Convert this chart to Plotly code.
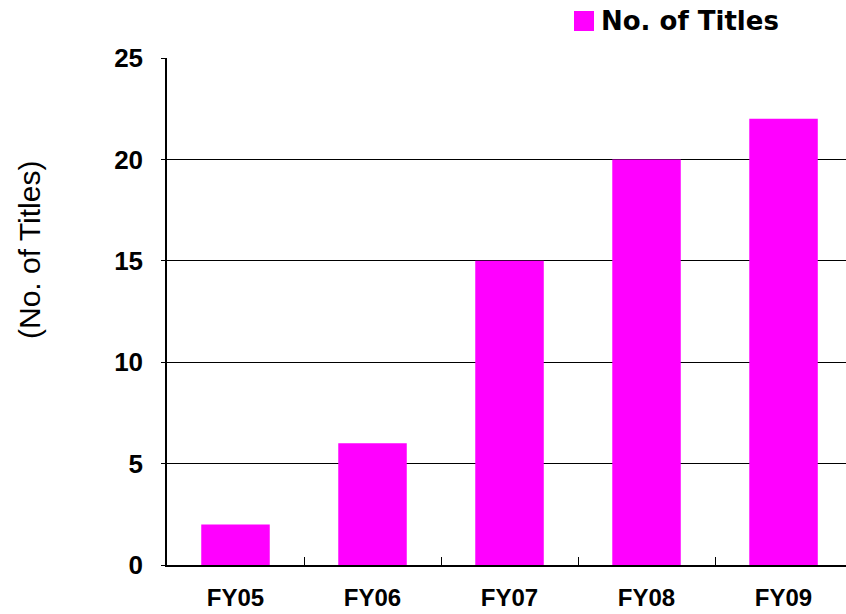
import plotly.graph_objects as go

# Titles released per fiscal year
categories = ["FY05", "FY06", "FY07", "FY08", "FY09"]
titles = [2, 6, 15, 20, 22]
series_name = "No. of Titles"
y_ticks = [0, 5, 10, 15, 20, 25]

MAGENTA = "#FF00FF"
FONT = "DejaVu Sans, sans-serif"
TICK_FONT = "Liberation Sans, Arial, sans-serif"

fig = go.Figure(
    go.Bar(
        x=categories,
        y=titles,
        name=series_name,
        marker=dict(color=MAGENTA, line=dict(width=0)),
        width=0.5,
        showlegend=False,
    )
)

fig.update_layout(
    width=846,
    height=614,
    margin=dict(l=167, r=0, t=58, b=49),
    plot_bgcolor="white",
    paper_bgcolor="white",
    font=dict(family=FONT, color="black"),
    xaxis=dict(
        type="category",
        range=[-0.5, 4.456],
        showline=True,
        linecolor="black",
        linewidth=2,
        ticks="inside",
        tickson="boundaries",
        ticklen=8,
        tickcolor="black",
        tickwidth=1,
        showgrid=False,
        tickfont=dict(size=24, family=TICK_FONT, weight="bold"),
        ticklabelstandoff=10,
    ),
    yaxis=dict(
        range=[0, 25],
        tickvals=y_ticks,
        showline=True,
        linecolor="black",
        linewidth=1.5,
        showgrid=True,
        gridcolor="black",
        gridwidth=1,
        zeroline=False,
        ticks="outside",
        ticklen=4,
        tickcolor="black",
        tickwidth=1,
        tickfont=dict(size=26, family=TICK_FONT, weight="bold"),
        ticklabelstandoff=13,
    ),
)

# Y axis caption
fig.add_annotation(
    text="(No. of Titles)",
    xref="paper", yref="paper",
    x=(29 - 167) / 679, y=(565 - 250) / 507,
    xanchor="center", yanchor="middle",
    textangle=-90,
    showarrow=False,
    font=dict(size=30, family="Liberation Sans, Arial, sans-serif"),
)

# Legend: swatch and series name
fig.add_shape(
    type="rect",
    xref="paper", yref="paper",
    x0=(574 - 167) / 679, x1=(594 - 167) / 679,
    y0=1 + (58 - 31) / 507, y1=1 + (58 - 11) / 507,
    fillcolor=MAGENTA,
    line=dict(width=0),
)
fig.add_annotation(
    text=series_name,
    xref="paper", yref="paper",
    x=(599 - 167) / 679, y=1 + (58 - 21) / 507,
    xanchor="left", yanchor="middle",
    showarrow=False,
    font=dict(size=26, family=FONT, weight="bold"),
)

fig.write_html("out.html")
